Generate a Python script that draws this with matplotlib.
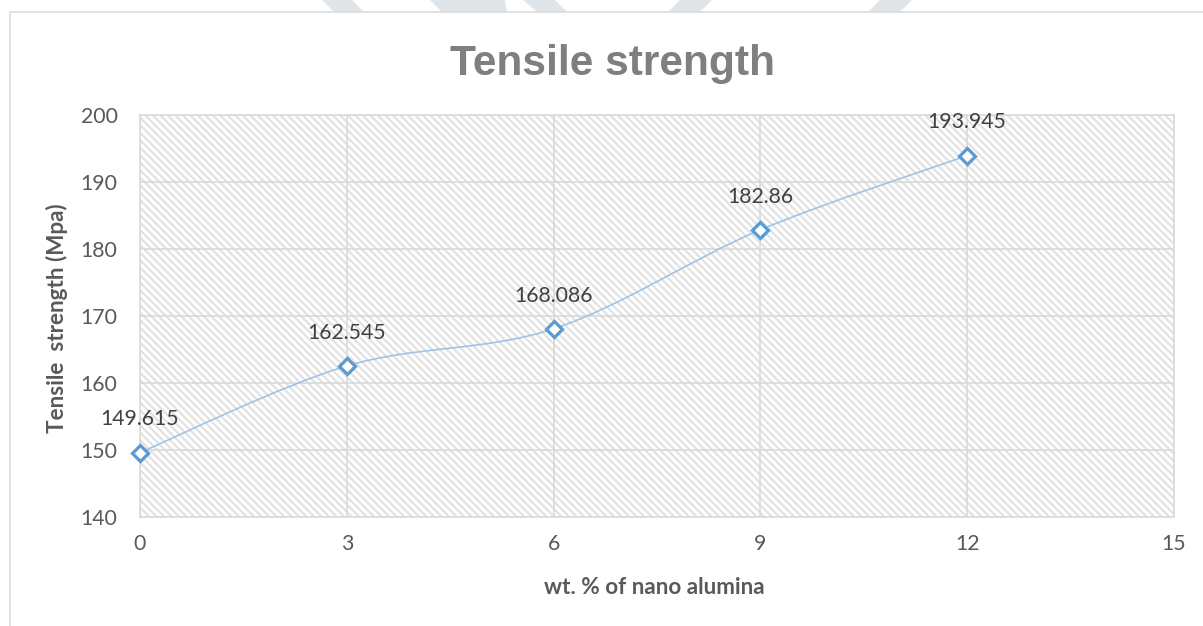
import numpy as np
import matplotlib
matplotlib.use("Agg")
import matplotlib.pyplot as plt
from matplotlib.path import Path
from matplotlib.patches import PathPatch, Rectangle, Polygon

# ---- data -------------------------------------------------------------
alumina_wt = [0, 3, 6, 9, 12]
tensile_mpa = [149.615, 162.545, 168.086, 182.86, 193.945]
x_ticks = [0, 3, 6, 9, 12, 15]
y_ticks = [140, 150, 160, 170, 180, 190, 200]

title = "Tensile strength"
x_label = "wt. % of nano alumina"
y_label = "Tensile  strength (Mpa)"

# ---- figure ------------------------------------------------------------
W, H, DPI = 1203, 626, 90
plt.rcParams["hatch.color"] = "#e1e1e1"
plt.rcParams["hatch.linewidth"] = 1.7
fig = plt.figure(figsize=(W / DPI, H / DPI), dpi=DPI)
fig.patch.set_facecolor("white")


def fx(px):
    return px / W


def fy(py):
    return 1 - py / H


# faint background shapes along the top edge
shape_color = "#dfe5e8"
shapes = [
    [(322, 0), (352, 0), (364, 12), (334, 12)],
    [(430, 0), (505, 0), (507, 12), (442, 12)],
    [(523, 0), (555, 0), (567, 12), (537, 12)],
    [(680, 0), (712, 0), (700, 12), (668, 12)],
    [(880, 0), (912, 0), (900, 12), (868, 12)],
]
for pts in shapes:
    fig.patches.append(Polygon([(fx(a), fy(b)) for a, b in pts], closed=True,
                               transform=fig.transFigure, facecolor=shape_color,
                               edgecolor="none", zorder=0))

# chart area frame
fig.patches.append(Rectangle((fx(10), fy(700)), fx(1300), fy(12) - fy(700),
                             transform=fig.transFigure, facecolor="white",
                             edgecolor="#d9d9d9", linewidth=1.2, zorder=1))

ax = fig.add_axes([fx(140), fy(517), fx(1174) - fx(140), fy(115) - fy(517)])
ax.set_zorder(2)
ax.patch.set_facecolor("white")

# hatched plot area
ax.add_patch(Rectangle((0, 0), 1, 1, transform=ax.transAxes, facecolor="white",
                       edgecolor="#e1e1e1", hatch="\\\\\\\\", linewidth=0, zorder=0))

ax.set_xlim(x_ticks[0], x_ticks[-1])
ax.set_ylim(y_ticks[0], y_ticks[-1])
ax.set_xticks(x_ticks)
ax.set_yticks(y_ticks)
ax.grid(True, color="#d9d9d9", linewidth=1.3, zorder=1)
ax.set_axisbelow(True)
for s in ax.spines.values():
    s.set_color("#d9d9d9")
    s.set_linewidth(1.3)
ax.tick_params(length=0, pad=14, labelsize=17, labelcolor="#595959")
ax.tick_params(axis="y", pad=18)
for lab in ax.get_xticklabels() + ax.get_yticklabels():
    lab.set_fontfamily("Lato")

# smoothed connecting line (cubic Bezier segments through the points)
pts = np.column_stack([alumina_wt, tensile_mpa]).astype(float)
n = len(pts)
verts = [tuple(pts[0])]
codes = [Path.MOVETO]
for i in range(n - 1):
    p_prev = pts[i - 1] if i > 0 else pts[i]
    p_next2 = pts[i + 2] if i + 2 < n else pts[i + 1]
    c1 = pts[i] + (pts[i + 1] - p_prev) / 6.0
    c2 = pts[i + 1] - (p_next2 - pts[i]) / 6.0
    verts += [tuple(c1), tuple(c2), tuple(pts[i + 1])]
    codes += [Path.CURVE4] * 3
ax.add_patch(PathPatch(Path(verts, codes), facecolor="none",
                       edgecolor="#9dc3e6", linewidth=1.3, zorder=3))

ax.plot(alumina_wt, tensile_mpa, linestyle="none", marker="D", markersize=9,
        markerfacecolor="white", markeredgecolor="#5b9bd5", markeredgewidth=2.6,
        zorder=4, clip_on=False)

for xv, yv in zip(alumina_wt, tensile_mpa):
    ax.annotate(f"{yv:g}", (xv, yv), xytext=(0, 26.5), textcoords="offset points",
                ha="center", va="center", fontsize=17, color="#404040",
                fontfamily="Lato", zorder=5, annotation_clip=False)

fig.text(fx(613), fy(75), title, ha="center", va="baseline", fontsize=34,
         fontweight="bold", color="#7f7f7f", fontfamily="Liberation Sans")
fig.text(fx(654), fy(587), x_label, ha="center", va="center", fontsize=18,
         fontweight="bold", color="#595959", fontfamily="Lato")
fig.text(fx(57), fy(318), y_label, ha="center", va="center", rotation=90,
         fontsize=18, fontweight="bold", color="#595959", fontfamily="Lato")

fig.savefig("out.png", dpi=DPI, facecolor="white")
